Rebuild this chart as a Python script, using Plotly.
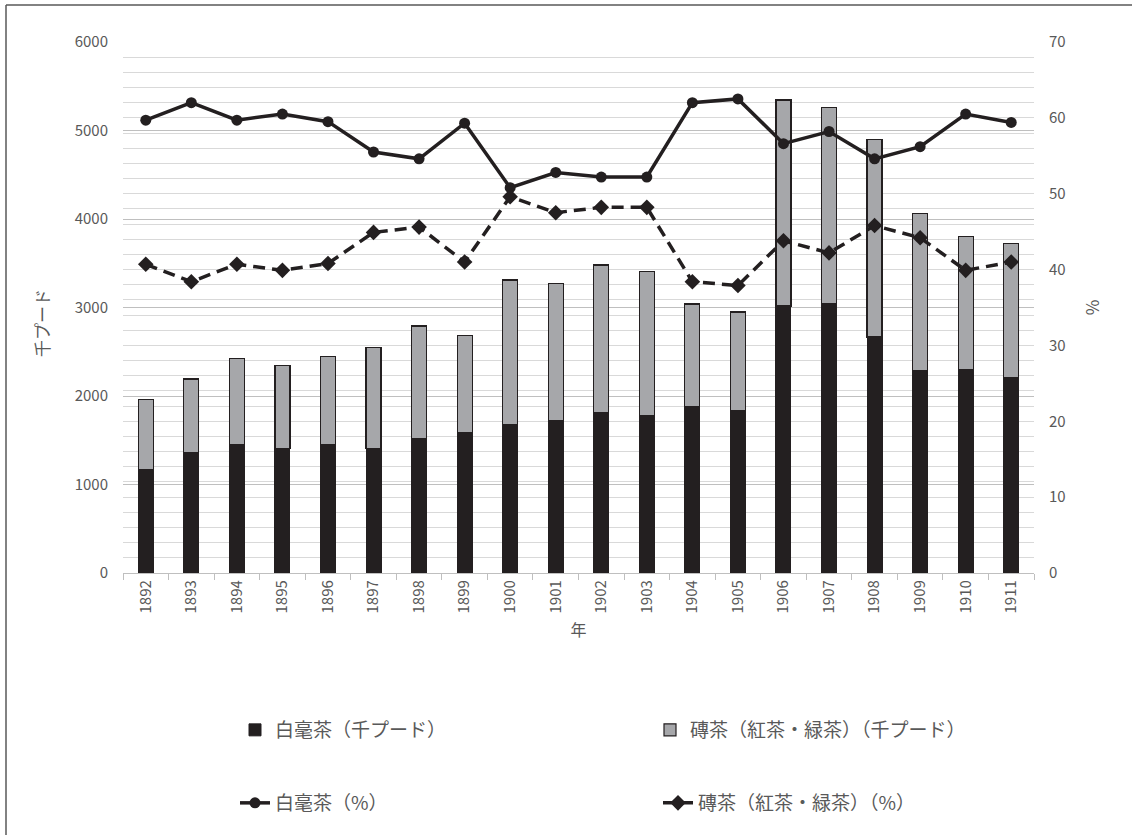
import plotly.graph_objects as go

years = [str(y) for y in range(1892, 1912)]
baihao_kpud = [1172, 1356, 1446, 1409, 1454, 1409, 1518, 1585, 1676, 1721,
               1811, 1774, 1879, 1838, 3017, 3047, 2667, 2282, 2294, 2207]
brick_kpud = [786, 836, 980, 934, 990, 1141, 1273, 1101, 1635, 1548,
              1669, 1631, 1161, 1111, 2328, 2211, 2233, 1782, 1506, 1518]
baihao_pct = [59.7, 62.0, 59.7, 60.5, 59.5, 55.5, 54.6, 59.3, 50.8, 52.8,
              52.2, 52.2, 62.0, 62.5, 56.6, 58.2, 54.6, 56.2, 60.5, 59.4]
brick_pct = [40.7, 38.4, 40.7, 39.9, 40.8, 44.9, 45.6, 41.0, 49.6, 47.5,
             48.2, 48.2, 38.4, 37.9, 43.8, 42.2, 45.8, 44.2, 39.9, 41.0]

names = ["白毫茶（千プード）", "磚茶（紅茶・緑茶）（千プード）", "白毫茶（%）", "磚茶（紅茶・緑茶）（%）"]

FONT = "Noto Sans CJK JP"
GRAY_TXT = "#595959"
DARK = "#231f20"

fig = go.Figure()
fig.add_trace(go.Bar(x=years, y=baihao_kpud, name=names[0], width=0.33,
                     marker=dict(color=DARK, line=dict(color=DARK, width=1)),
                     showlegend=True, legend="legend2"))
fig.add_trace(go.Bar(x=years, y=brick_kpud, name=names[1], width=0.33,
                     marker=dict(color="#a6a7aa", line=dict(color=DARK, width=1.2)),
                     showlegend=True, legend="legend3"))
fig.add_trace(go.Scatter(x=years, y=baihao_pct, name=names[2], yaxis="y2",
                         mode="lines+markers",
                         line=dict(color=DARK, width=3.5),
                         marker=dict(symbol="circle", size=11, color=DARK),
                         showlegend=True, legend="legend4"))
fig.add_trace(go.Scatter(x=years, y=brick_pct, name=names[3], yaxis="y2",
                         mode="lines+markers",
                         line=dict(color=DARK, width=3.5, dash="12px,7px"),
                         marker=dict(symbol="diamond", size=12, color=DARK),
                         showlegend=True, legend="legend5"))

W, H = 1132, 835
ml, mr, mt, mb = 123, 98, 42, 262
pw, ph = W - ml - mr, H - mt - mb

def px_x(x):
    return (x - ml) / pw

def px_y(y):
    return (H - mb - y) / ph

leg_common = dict(orientation="h", xanchor="left", yanchor="middle",
                  font=dict(family=FONT, size=19, color=GRAY_TXT),
                  bgcolor="rgba(0,0,0,0)")

fig.update_layout(
    width=W, height=H,
    margin=dict(l=ml, r=mr, t=mt, b=mb),
    paper_bgcolor="white", plot_bgcolor="white",
    barmode="stack",
    showlegend=True,
    font=dict(family=FONT, size=15, color=GRAY_TXT),
    xaxis=dict(type="category", range=[-0.5, 19.5], autorange=False,
               showgrid=False, showline=True, linecolor="#bfbfbf",
               linewidth=1.3, ticks="outside", tickson="boundaries", ticklen=6,
               tickcolor="#bfbfbf", tickangle=-90,
               tickfont=dict(family=FONT, size=15, color=GRAY_TXT),
               title=dict(text="年", font=dict(family=FONT, size=16, color=GRAY_TXT), standoff=12)),
    yaxis=dict(range=[0, 6000], dtick=1000, showgrid=True, gridcolor="#bfbfbf",
               gridwidth=1.3, zeroline=False, showline=False,
               ticklabelstandoff=14,
               tickfont=dict(family=FONT, size=15, color=GRAY_TXT)),
    yaxis2=dict(range=[0, 70], dtick=10, overlaying="y", side="right",
                showgrid=True, gridcolor="#d9d9d9", gridwidth=1.3, zeroline=False,
                minor=dict(dtick=2, showgrid=True, gridcolor="#d9d9d9", gridwidth=1.3),
                ticklabelstandoff=14,
                tickfont=dict(family=FONT, size=15, color=GRAY_TXT),
                title=dict(text="%", font=dict(family=FONT, size=17, color=GRAY_TXT), standoff=22)),
    legend=dict(visible=False),
    legend2=dict(x=px_x(235), y=px_y(730), **leg_common),
    legend3=dict(x=px_x(650), y=px_y(730), **leg_common),
    legend4=dict(x=px_x(235), y=px_y(803), **leg_common),
    legend5=dict(x=px_x(658), y=px_y(803), **leg_common),
    annotations=[
        dict(text="千プード", textangle=-90, xref="paper", yref="paper",
             x=px_x(41), y=px_y(323), xanchor="center", yanchor="middle",
             showarrow=False, font=dict(family=FONT, size=17, color=GRAY_TXT)),
    ],
    shapes=[
        dict(type="line", xref="paper", yref="paper", x0=px_x(6), x1=px_x(6),
             y0=px_y(5), y1=px_y(H + 5), line=dict(color=GRAY_TXT, width=1.5)),
        dict(type="line", xref="paper", yref="paper", x0=px_x(6), x1=px_x(W + 5),
             y0=px_y(5), y1=px_y(5), line=dict(color=GRAY_TXT, width=1.5)),
    ],
)

fig.write_html("out.html")
